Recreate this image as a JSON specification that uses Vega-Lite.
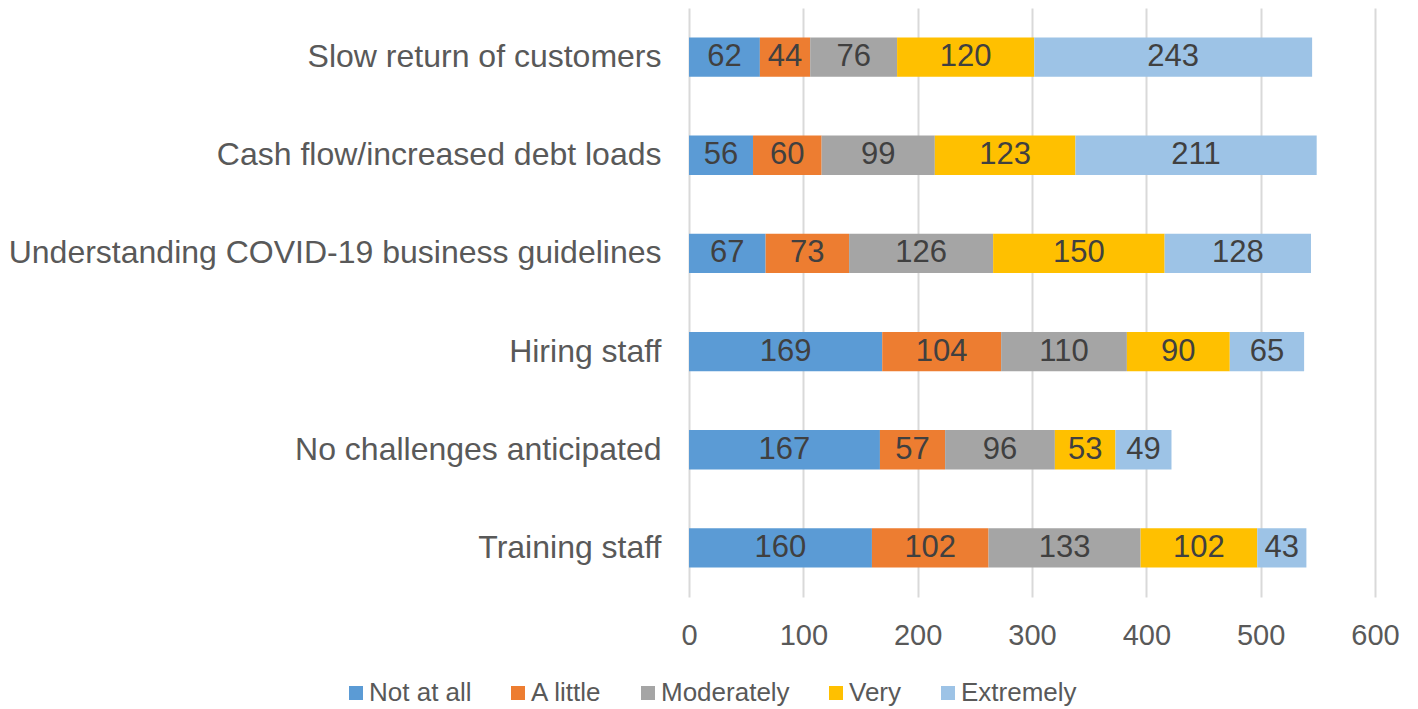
{
  "$schema": "https://vega.github.io/schema/vega-lite/v6.json",
  "autosize": {"type": "none"},
  "width": 686,
  "height": 589,
  "padding": {"left": 689, "top": 8, "right": 43, "bottom": 112},
  "background": "white",
  "config": {
    "view": {"stroke": null},
    "font": "Liberation Sans"
  },
  "data": {
    "values": [
      {"challenge": "Slow return of customers", "level": "Not at all", "o": 1, "value": 62},
      {"challenge": "Slow return of customers", "level": "A little", "o": 2, "value": 44},
      {"challenge": "Slow return of customers", "level": "Moderately", "o": 3, "value": 76},
      {"challenge": "Slow return of customers", "level": "Very", "o": 4, "value": 120},
      {"challenge": "Slow return of customers", "level": "Extremely", "o": 5, "value": 243},
      {"challenge": "Cash flow/increased debt loads", "level": "Not at all", "o": 1, "value": 56},
      {"challenge": "Cash flow/increased debt loads", "level": "A little", "o": 2, "value": 60},
      {"challenge": "Cash flow/increased debt loads", "level": "Moderately", "o": 3, "value": 99},
      {"challenge": "Cash flow/increased debt loads", "level": "Very", "o": 4, "value": 123},
      {"challenge": "Cash flow/increased debt loads", "level": "Extremely", "o": 5, "value": 211},
      {"challenge": "Understanding COVID-19 business guidelines", "level": "Not at all", "o": 1, "value": 67},
      {"challenge": "Understanding COVID-19 business guidelines", "level": "A little", "o": 2, "value": 73},
      {"challenge": "Understanding COVID-19 business guidelines", "level": "Moderately", "o": 3, "value": 126},
      {"challenge": "Understanding COVID-19 business guidelines", "level": "Very", "o": 4, "value": 150},
      {"challenge": "Understanding COVID-19 business guidelines", "level": "Extremely", "o": 5, "value": 128},
      {"challenge": "Hiring staff", "level": "Not at all", "o": 1, "value": 169},
      {"challenge": "Hiring staff", "level": "A little", "o": 2, "value": 104},
      {"challenge": "Hiring staff", "level": "Moderately", "o": 3, "value": 110},
      {"challenge": "Hiring staff", "level": "Very", "o": 4, "value": 90},
      {"challenge": "Hiring staff", "level": "Extremely", "o": 5, "value": 65},
      {"challenge": "No challenges anticipated", "level": "Not at all", "o": 1, "value": 167},
      {"challenge": "No challenges anticipated", "level": "A little", "o": 2, "value": 57},
      {"challenge": "No challenges anticipated", "level": "Moderately", "o": 3, "value": 96},
      {"challenge": "No challenges anticipated", "level": "Very", "o": 4, "value": 53},
      {"challenge": "No challenges anticipated", "level": "Extremely", "o": 5, "value": 49},
      {"challenge": "Training staff", "level": "Not at all", "o": 1, "value": 160},
      {"challenge": "Training staff", "level": "A little", "o": 2, "value": 102},
      {"challenge": "Training staff", "level": "Moderately", "o": 3, "value": 133},
      {"challenge": "Training staff", "level": "Very", "o": 4, "value": 102},
      {"challenge": "Training staff", "level": "Extremely", "o": 5, "value": 43}
    ]
  },
  "transform": [
    {"stack": "value", "groupby": ["challenge"], "sort": [{"field": "o", "order": "ascending"}], "as": ["x0", "x1"]},
    {"calculate": "(datum.x0 + datum.x1) / 2", "as": "xmid"}
  ],
  "encoding": {
    "y": {
      "field": "challenge",
      "type": "nominal",
      "sort": null,
      "scale": {"paddingInner": 0.6, "paddingOuter": 0.3},
      "axis": {
        "title": null,
        "domain": false,
        "ticks": false,
        "labelFontSize": 32,
        "labelColor": "#595959",
        "labelPadding": 28,
        "labelLimit": 0
      }
    }
  },
  "layer": [
    {
      "mark": {"type": "bar"},
      "encoding": {
        "x": {
          "field": "x0",
          "type": "quantitative",
          "scale": {"domain": [0, 600], "nice": false},
          "axis": {
            "title": null,
            "values": [0, 100, 200, 300, 400, 500, 600],
            "domain": false,
            "ticks": false,
            "grid": true,
            "gridColor": "#D9D9D9",
            "gridWidth": 2,
            "labelFontSize": 29,
            "labelColor": "#595959",
            "labelPadding": 24,
            "labelFlush": false
          }
        },
        "x2": {"field": "x1"},
        "color": {
          "field": "level",
          "type": "nominal",
          "scale": {
            "domain": ["Not at all", "A little", "Moderately", "Very", "Extremely"],
            "range": ["#5B9BD5", "#ED7D31", "#A5A5A5", "#FFC000", "#9DC3E6"]
          },
          "legend": {
            "title": null,
            "orient": "none",
            "direction": "horizontal",
            "legendX": -346,
            "legendY": 672,
            "symbolType": "square",
            "symbolSize": 196,
            "symbolStrokeWidth": 0,
            "labelFontSize": 26,
            "labelColor": "#595959",
            "labelOffset": 0,
            "columnPadding": 33,
            "labelLimit": 0
          }
        }
      }
    },
    {
      "mark": {"type": "text", "fontSize": 31, "color": "#404040", "baseline": "middle", "align": "center"},
      "encoding": {
        "x": {"field": "xmid", "type": "quantitative"},
        "text": {"field": "value", "type": "quantitative"}
      }
    }
  ]
}
